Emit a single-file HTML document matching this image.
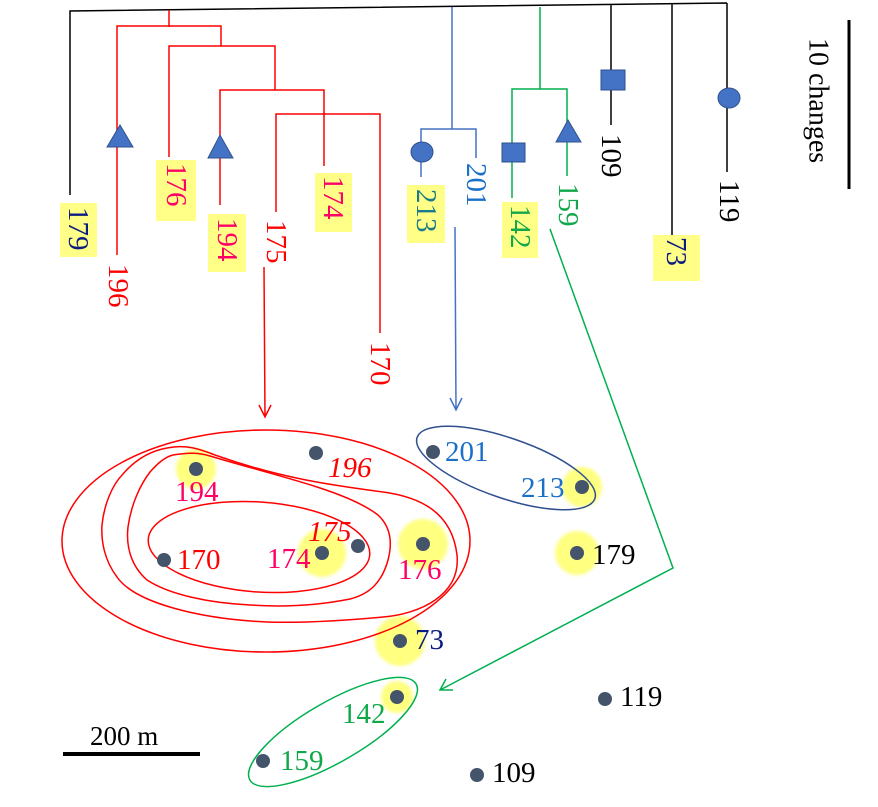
<!DOCTYPE html>
<html><head><meta charset="utf-8"><style>
html,body{margin:0;padding:0;background:#fff;}
svg, svg text{font-family:"Liberation Serif","DejaVu Serif",serif;}
</style></head><body>
<svg id="fig" width="878" height="802" viewBox="0 0 878 802" font-family="Liberation Serif, serif">
<defs>
<filter id="blur" x="-50%" y="-50%" width="200%" height="200%"><feGaussianBlur stdDeviation="1.5"/></filter>
</defs>
<g fill="none" stroke-width="1.5">
  <path stroke="#000" d="M70,195 L70,11 L727,3 M611,5 L611,125 M672,4 L672,237 M727,3 L727,172"/>
  <path stroke="#ff0000" d="M169,10 L169,27 M117,255 L117,26 L221,26 L221,46 M169,157 L169,46 L275,46 L275,90 M220,205 L220,90 L324,90 L324,166 M276,212 L276,114 L380,114 L380,333"/>
  <path stroke="#4472c4" d="M452,7 L452,129 M421,177 L421,129 L476,129 L476,158"/>
  <path stroke="#00b050" d="M540,7 L540,89 M512,198 L512,89 L567,89 L567,176"/>
  <g fill="#4472c4" stroke="#2f528f" stroke-width="1">
    <polygon points="120,125 107,147 133,147"/>
    <polygon points="220,135 208,158 233,158"/>
    <polygon points="568,120 556,142 581,142"/>
    <rect x="502" y="143" width="23" height="19"/>
    <rect x="601" y="70" width="24" height="20"/>
    <ellipse cx="422" cy="152" rx="11" ry="10"/>
    <ellipse cx="729" cy="98" rx="11" ry="10"/>
  </g>
  <g fill="#ffff88" stroke="none">
    <rect x="60" y="203" width="37" height="54"/>
    <rect x="156" y="160" width="40" height="61"/>
    <rect x="208" y="214" width="38" height="58"/>
    <rect x="315" y="173" width="37" height="59"/>
    <rect x="407" y="185" width="38" height="58"/>
    <rect x="502" y="202" width="36" height="56"/>
    <rect x="653" y="235" width="47" height="46"/>
  </g>
</g>
<g id="leafLabels" font-size="29" font-family="Liberation Serif, serif"></g>
<g>
  <line x1="849" y1="20" x2="849" y2="189" stroke="#000" stroke-width="3"/>
  <text transform="translate(818,38) rotate(90)" font-size="28" font-family="Liberation Serif, serif" dominant-baseline="central">10 changes</text>
</g>
<g fill="none" stroke-width="1.5">
  <path stroke="#ff0000" d="M264,267 L265,417 M259,405 L265,417 L271,405"/>
  <path stroke="#4472c4" d="M455,227 L456,410 M450,398 L456,410 L462,398"/>
  <path stroke="#00b050" d="M550,229 L673,568 L440,690 M446,679 L440,690 L453,690"/>
</g>
<g fill="none" stroke-width="1.5">
  <g id="halos"></g>
  <ellipse stroke="#ff0000" cx="266" cy="541" rx="204" ry="111"/>
  <path stroke="#ff0000" d="M167,448 C185,444 200,449 215,455 C280,478 330,485 383,492 C420,497 452,512 457,555 C461,595 420,614 383,617 C340,621 300,623 267,622 C200,619 135,603 117,577 C104,560 101,540 102,525 C104,505 112,485 123,474 C135,460 150,451 167,448 Z"/>
  <path stroke="#ff0000" d="M173,455 C190,452 200,453 210,456 C250,468 290,478 317,487 C345,496 365,505 378,515 C392,528 392,545 388,560 C382,582 370,594 350,599 C315,606 280,607 250,605 C210,603 170,595 147,580 C130,565 126,545 128,527 C131,505 140,485 150,472 C158,463 165,457 173,455 Z"/>
  <ellipse stroke="#ff0000" cx="259" cy="547" rx="111" ry="45" transform="rotate(4 259 547)"/>
  <ellipse stroke="#2f4f8f" cx="506" cy="468" rx="94" ry="30" transform="rotate(19 506 468)"/>
  <ellipse stroke="#00b050" cx="333" cy="732" rx="96" ry="30" transform="rotate(-30 333 732)"/>
  <g id="dots"></g>
  <g id="mapLabels" font-size="29" font-family="Liberation Serif, serif" stroke="none"></g>
  <g>
    <line x1="63" y1="754" x2="200" y2="754" stroke="#000" stroke-width="4"/>
    <text x="90" y="745" font-size="27" font-family="Liberation Serif, serif" fill="#000" stroke="none">200 m</text>
  </g>
</g>
</svg>
<script>
// tree leaves: name, x, top y, colour
const leafNames = ["179","196","176","194","175","174","170","213","201","142","159","109","73","119"];
const leafX =     [78,118,176,227,276,333,380,426,476,520,568,611,676,729];
const leafTop =   [207,264,163,218,220,176,342,189,163,205,183,134,237,180];
const leafColor = ["#0b1b80","#ff0000","#ff0066","#ff0066","#ff0000","#ff0066","#ff0000","#1a7a8a","#1a6fc8","#11a84a","#11a84a","#000","#0b1b80","#000"];
// map samples
const ptNames = ["196","194","170","174","175","176","201","213","179","73","142","159","119","109"];
const ptX = [316,196,164,322,358,423,433,582,577,400,397,263,605,477];
const ptY = [453,469,560,553,546,544,452,487,553,641,697,761,699,775];
const halo = [0,20,0,24,0,25,0,20,22,25,16,0,0,0];
const labX = [328,175,177,267,308,398,445,521,592,415,342,280,620,492];
const labY = [477,501,569,568,541,579,461,497,564,649,723,770,706,782];
const labColor = ["#ff0000","#ff0066","#ff0000","#ff0066","#ff0000","#ff0066","#1a6fc8","#1a6fc8","#000","#0b1b80","#11a84a","#11a84a","#000","#000"];
const labItalic = [1,0,0,0,1,0,0,0,0,0,0,0,0,0];
const NS="http://www.w3.org/2000/svg";
const ll=document.getElementById('leafLabels');
leafNames.forEach((n,i)=>{
  const t=document.createElementNS(NS,'text');
  
  
  t.setAttribute('transform','translate('+leafX[i]+','+leafTop[i]+') rotate(90)');
  t.setAttribute('dominant-baseline','central');
  t.setAttribute('fill',leafColor[i]);
  t.textContent=n; ll.appendChild(t);
});
const hg=document.getElementById('halos'),dg=document.getElementById('dots'),mg=document.getElementById('mapLabels');
ptNames.forEach((n,i)=>{
  if(halo[i]>0){
    const h=document.createElementNS(NS,'circle');
    
    
    h.setAttribute('cx',ptX[i]);h.setAttribute('cy',ptY[i]);h.setAttribute('r',halo[i]);
    h.setAttribute('fill','#ffff80');h.setAttribute('stroke','none');h.setAttribute('filter','url(#blur)');
    hg.appendChild(h);
  }
  const c=document.createElementNS(NS,'circle');
  
  
  c.setAttribute('cx',ptX[i]);c.setAttribute('cy',ptY[i]);c.setAttribute('r',7);
  c.setAttribute('fill','#44546a');c.setAttribute('stroke','none');
  dg.appendChild(c);
  const t=document.createElementNS(NS,'text');
  
  
  t.setAttribute('x',labX[i]);t.setAttribute('y',labY[i]);
  t.setAttribute('fill',labColor[i]);
  if(labItalic[i]) t.setAttribute('font-style','italic');
  t.textContent=n; mg.appendChild(t);
});
</script>
</body></html>
